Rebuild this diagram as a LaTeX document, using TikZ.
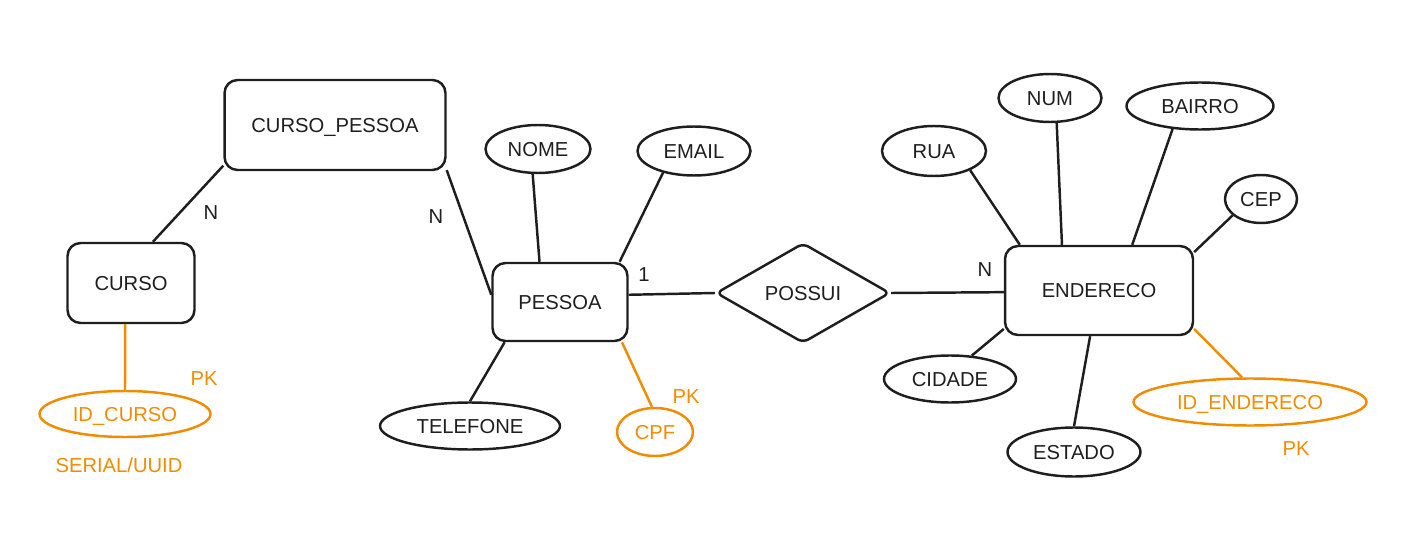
\documentclass[tikz,border=0pt]{standalone}
\usepackage{fontspec}
\setmainfont{Liberation Sans}
\usetikzlibrary{shapes.geometric}
\definecolor{inkblack}{HTML}{1E1E1E}
\definecolor{pkorange}{HTML}{F08C00}
\tikzset{
	caps/.style={text height=1.6ex, text depth=0pt},
	entity/.style={draw=inkblack, line width=1.4pt, rounded corners=0.26cm, inner sep=0pt, text=inkblack, caps},
	attrib/.style={draw=inkblack, ellipse, line width=1.4pt, inner sep=0pt, text=inkblack, caps},
	keyattrib/.style={attrib, draw=pkorange, text=pkorange},
	relation/.style={draw=inkblack, diamond, line width=1.4pt, inner sep=0pt, rounded corners=0.12cm, text=inkblack, caps},
	link/.style={draw=inkblack, line width=1.4pt},
	keylink/.style={link, draw=pkorange},
	card/.style={text=inkblack, inner sep=1pt},
	keynote/.style={text=pkorange, inner sep=1pt}
}

\begin{document}
\begin{tikzpicture}[x=0.02cm, y=-0.02cm, font=\fontsize{11.5}{13}\selectfont]
	%%%%% START %%%%%
	\useasboundingbox (0,0) rectangle (1401,544);
	
	% entities and relation
	\node[entity, minimum width=4.42cm, minimum height=1.8cm] (cursopessoa) at (335,125) {CURSO\_PESSOA};
	\node[entity, minimum width=2.54cm, minimum height=1.6cm] (curso) at (131,283) {CURSO};
	\node[entity, minimum width=2.7cm, minimum height=1.56cm] (pessoa) at (560,302) {PESSOA};
	\node[relation, minimum width=3.48cm, minimum height=2cm] (possui) at (803,293) {POSSUI};
	\node[entity, minimum width=3.76cm, minimum height=1.78cm] (endereco) at (1099,290.5) {ENDERECO};
	
	% attributes
	\node[keyattrib, minimum width=3.42cm, minimum height=0.92cm] (idcurso) at (125,414) {ID\_CURSO};
	\node[attrib, minimum width=2.1cm, minimum height=0.96cm] (nome) at (538,149) {NOME};
	\node[attrib, minimum width=2.26cm, minimum height=0.98cm] (email) at (694,151) {EMAIL};
	\node[attrib, minimum width=3.6cm, minimum height=0.94cm] (telefone) at (470,426) {TELEFONE};
	\node[keyattrib, minimum width=1.52cm, minimum height=0.96cm] (cpf) at (655,432) {CPF};
	\node[attrib, minimum width=2.08cm, minimum height=1cm] (rua) at (934,151) {RUA};
	\node[attrib, minimum width=2.06cm, minimum height=0.96cm] (num) at (1050,98) {NUM};
	\node[attrib, minimum width=2.94cm, minimum height=0.94cm] (bairro) at (1200,106) {BAIRRO};
	\node[attrib, minimum width=1.44cm, minimum height=0.96cm] (cep) at (1261,199) {CEP};
	\node[attrib, minimum width=2.64cm, minimum height=0.94cm] (cidade) at (950,379) {CIDADE};
	\node[attrib, minimum width=2.66cm, minimum height=0.98cm] (estado) at (1074,452) {ESTADO};
	\node[keyattrib, minimum width=4.66cm, minimum height=0.94cm] (idendereco) at (1250,402) {ID\_ENDERECO};
	
	% cardinalities and notes
	\node[card] (ncurso) at (211,213) {N};
	\node[card] (npessoa) at (436,217) {N};
	\node[card] (umpessoa) at (644,275) {1};
	\node[card] (nendereco) at (985,270) {N};
	\node[keynote] (pkcurso) at (204,379) {PK};
	\node[keynote] (serial) at (119,465) {SERIAL/UUID};
	\node[keynote] (pkcpf) at (686,397) {PK};
	\node[keynote] (pkendereco) at (1296,449) {PK};
	
	% connectors
	\draw[link] (cursopessoa.200) -- (curso.62);
	\draw[link] (cursopessoa.-22) -- (pessoa.174);
	\draw[keylink] (curso.262) -- (idcurso.north);
	
	\draw[link] (nome.258) -- (pessoa.117);
	\draw[link] (email.215) -- (pessoa.34);
	\draw[link] (pessoa.216) -- (telefone.north);
	\draw[keylink] (pessoa.-33) -- (cpf.97);
	
	\draw[link] (pessoa.6) -- (possui.west);
	\draw[link] (possui.east) -- (endereco.181);
	
	\draw[link] (rua.-28) -- (endereco.150);
	\draw[link] (num.-75) -- (endereco.129);
	\draw[link] (bairro.220) -- (endereco.54);
	\draw[link] (cep.210) -- (endereco.22);
	\draw[link] (cidade.47) -- (endereco.202);
	\draw[link] (estado.north) -- (endereco.259);
	\draw[keylink] (endereco.-22) -- (idendereco.108);
	
	%%%%% END %%%%%
\end{tikzpicture}
\end{document}
